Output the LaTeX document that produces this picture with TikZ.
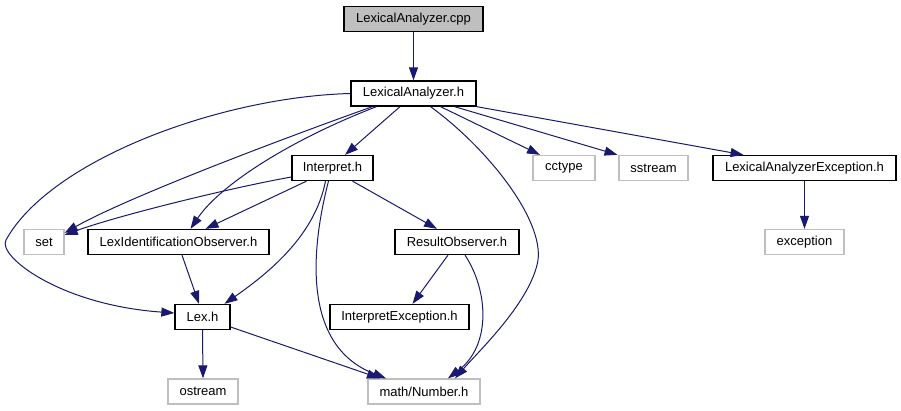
\documentclass[tikz,border=0pt]{standalone}
\usepackage{fontspec}
\setmainfont{Liberation Sans}
\usetikzlibrary{arrows.meta}
\definecolor{edgeblue}{HTML}{191970}
\definecolor{extgray}{HTML}{BFBFBF}
\begin{document}
\begin{tikzpicture}[x=1pt,y=-1pt,
  box/.style={draw=black,line width=1.3pt,minimum height=25pt,inner sep=0pt,font=\fontsize{13}{15}\selectfont},
  extbox/.style={box,draw=extgray},
  rootbox/.style={box,fill=extgray},
  edge/.style={draw=edgeblue,line width=1pt,-{Triangle[length=13pt,width=9pt]}}]
\useasboundingbox (0,0) rectangle (901,411);
\node[rootbox,minimum width=139pt] (cpp) at (413.5,19) {LexicalAnalyzer.cpp};
\node[box,minimum width=125pt] (la) at (413.5,93.5) {LexicalAnalyzer.h};
\node[box,minimum width=81pt] (interp) at (332.5,168) {Interpret.h};
\node[extbox,minimum width=62pt] (cctype) at (564,168) {cctype};
\node[extbox,minimum width=69pt] (sstream) at (653.5,168) {sstream};
\node[box,minimum width=183pt] (laex) at (804.5,168) {LexicalAnalyzerException.h};
\node[extbox,minimum width=40pt] (set) at (44,242) {set};
\node[box,minimum width=181pt] (lio) at (178.5,242) {LexIdentificationObserver.h};
\node[box,minimum width=124pt] (ro) at (457,242) {ResultObserver.h};
\node[extbox,minimum width=79pt] (exc) at (804.5,242) {exception};
\node[box,minimum width=55pt] (lex) at (202.5,317) {Lex.h};
\node[box,minimum width=139pt] (iex) at (399.5,317) {InterpretException.h};
\node[extbox,minimum width=70pt] (ostream) at (203,391.5) {ostream};
\node[extbox,minimum width=112pt] (num) at (424,391.5) {math/Number.h};

\path[edge] (cpp.south) -- (la.north);
\path[edge] ([xshift=-13.5pt]la.south) -- ([xshift=12.5pt]interp.north);
\path[edge] ([xshift=-41pt]la.south) .. controls (290,136) and (130,196) .. ([yshift=-4pt]set.north east);
\path[edge] ([yshift=-9pt]interp.west) .. controls (230,188) and (120,215) .. ([yshift=-6pt]set.north east);
\path[edge] ([xshift=-37pt]la.south) .. controls (290,140) and (220,185) .. ([xshift=12pt]lio.north);
\path[edge] ([xshift=-26pt]interp.south) -- ([xshift=27pt]lio.north);
\path[edge] ([xshift=-7pt]interp.south) .. controls (315,235) and (270,272) .. ([xshift=22pt]lex.north);
\path[edge] ([xshift=-4pt]interp.south) .. controls (312,245) and (300,345) .. ([xshift=-38pt]num.north);
\path[edge] ([xshift=20pt]interp.south) -- ([xshift=-20pt]ro.north);
\path[edge] ([xshift=17pt]la.south) .. controls (490,150) and (548,225) .. (537,265) .. controls (527,305) and (480,350) .. ([xshift=31pt]num.north);
\path[edge] ([xshift=27pt]la.south) -- ([xshift=-24pt]cctype.north);
\path[edge] ([xshift=41pt]la.south) -- ([xshift=-36pt]sstream.north);
\path[edge] (la.south east) -- ([xshift=-61pt]laex.north);
\path[edge] (laex.south) -- (exc.north);
\path[edge] (la.west) .. controls (220,97) and (50,160) .. (6,240) .. controls (-3,256) and (60,305) .. ([yshift=4pt]lex.west);
\path[edge] ([xshift=3.5pt]lio.south) -- ([xshift=-3.5pt]lex.north);
\path[edge] (lex.south) -- (ostream.north);
\path[edge] ([yshift=-10pt]lex.east) -- ([xshift=-44pt]num.north);
\path[edge] ([xshift=-9pt]ro.south) -- ([xshift=13pt]iex.north);
\path[edge] ([xshift=8pt]ro.south) .. controls (488,290) and (492,345) .. ([xshift=24pt]num.north);
\end{tikzpicture}
\end{document}
